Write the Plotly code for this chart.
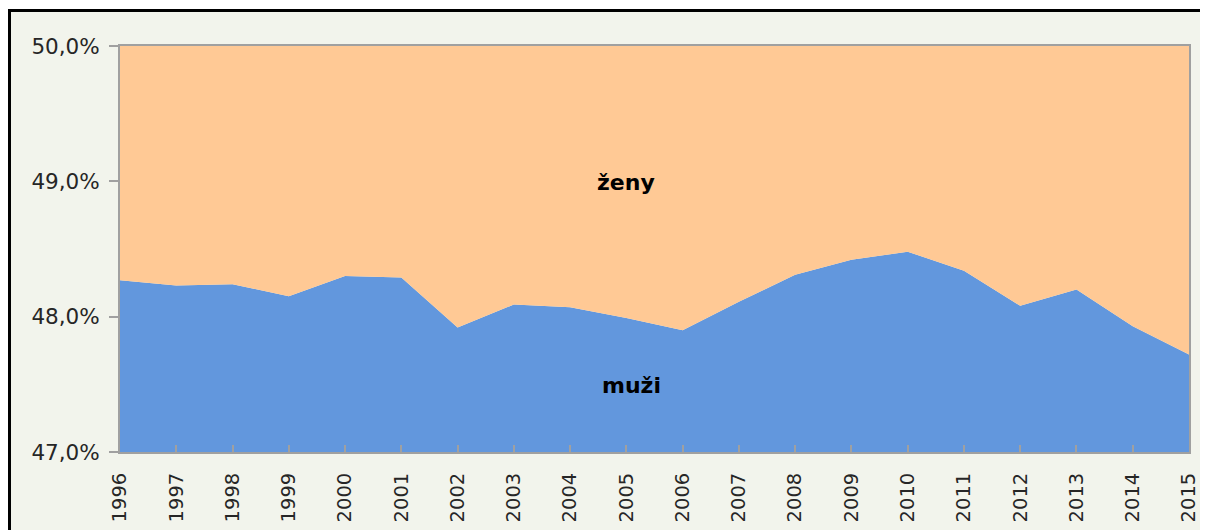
import plotly.graph_objects as go

years = list(range(1996, 2016))
muzi = [48.27, 48.23, 48.24, 48.15, 48.30, 48.29, 47.92, 48.09, 48.07, 47.99,
        47.90, 48.11, 48.31, 48.42, 48.48, 48.34, 48.08, 48.20, 47.93, 47.72]
zeny = [51.73, 51.77, 51.76, 51.85, 51.70, 51.71, 52.08, 51.91, 51.93, 52.01,
        52.10, 51.89, 51.69, 51.58, 51.52, 51.66, 51.92, 51.80, 52.07, 52.28]
y_ticks = [47.0, 48.0, 49.0, 50.0]
y_labels = ["47,0%", "48,0%", "49,0%", "50,0%"]

BLUE = "#6297DD"
PEACH = "#FFC995"
BG = "#F2F4EC"
FONT = "DejaVu Sans"

fig = go.Figure()
fig.add_trace(go.Scatter(x=years, y=muzi, name="muži", stackgroup="one",
                         mode="none", fillcolor=BLUE, hoverinfo="x+y"))
fig.add_trace(go.Scatter(x=years, y=zeny, name="ženy", stackgroup="one",
                         mode="none", fillcolor=PEACH, hoverinfo="x+y"))

# page body has an 8px margin; figure coordinates are page - 8
W, H = 1208, 530
L, R, T, B = 112, 27, 38, 86
pw, ph = W - L - R, H - T - B

def px_x(p):
    return (p - L) / pw

def px_y(p):
    return 1 - (p - T) / ph

fig.update_layout(
    width=W, height=H,
    margin=dict(l=L, r=R, t=T, b=B, pad=0),
    paper_bgcolor="white",
    plot_bgcolor=BG,
    showlegend=False,
    font=dict(family=FONT, size=19.5, color="#262626"),
    shapes=[dict(type="rect", xref="paper", yref="paper", layer="below",
                 x0=px_x(1.5), x1=px_x(1400), y0=px_y(2.5), y1=px_y(800),
                 fillcolor=BG, line=dict(color="black", width=3))],
    annotations=[
        dict(text="<b>ženy</b>", x=2005.0, y=48.99, xref="x", yref="y",
             showarrow=False, font=dict(family=FONT, size=22, color="black")),
        dict(text="<b>muži</b>", x=2005.1, y=47.49, xref="x", yref="y",
             showarrow=False, font=dict(family=FONT, size=22, color="black")),
    ],
)
fig.update_xaxes(
    range=[1996, 2015], tickmode="array", tickvals=years,
    ticktext=[str(y) for y in years], tickangle=-90,
    ticks="inside", ticklen=7, tickcolor="#A0A0A0", tickwidth=2,
    showline=True, linecolor="#A0A0A0", linewidth=2, mirror=True,
    showgrid=False, zeroline=False, ticklabelstandoff=11,
)
fig.update_yaxes(
    range=[47.0, 50.0], tickmode="array", tickvals=y_ticks, ticktext=y_labels,
    ticks="outside", ticklen=9, tickcolor="#A0A0A0", tickwidth=2,
    showline=True, linecolor="#A0A0A0", linewidth=2, mirror=True,
    showgrid=False, zeroline=False, tickfont=dict(size=21.5),
    ticklabelstandoff=5,
)
fig.write_html("out.html")
